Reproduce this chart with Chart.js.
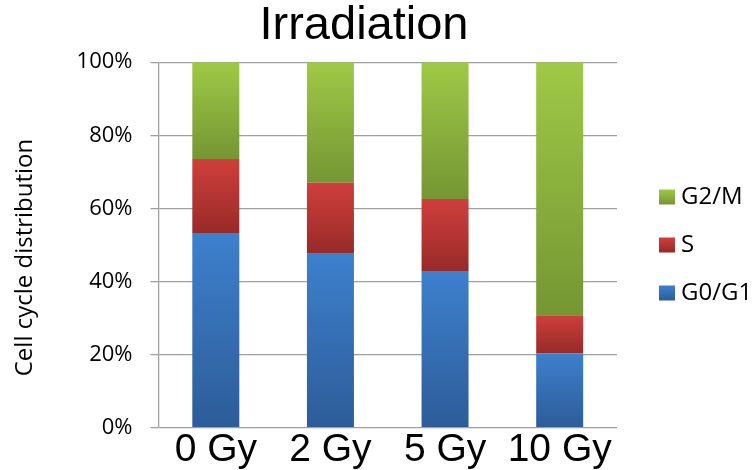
<!DOCTYPE html>
<html>
<head>
<meta charset="utf-8">
<script src="https://cdn.jsdelivr.net/npm/chart.js@4.4.0/dist/chart.umd.min.js"></script>
<style>
  html, body { margin: 0; padding: 0; background: #ffffff; }
  #c { display: block; }
</style>
</head>
<body>
<canvas id="c" width="754" height="470"></canvas>
<script>
// Radiation dose groups
const doses = ['0 Gy', '2 Gy', '5 Gy', '10 Gy'];

// Share of cells in each phase (%)
const g0g1 = [53.1, 47.6, 42.7, 20.4];
const sPhase = [20.4, 19.4, 19.9, 10.4];
const g2m = [26.5, 33.0, 37.4, 69.2];

// Axis ticks
const percentTicks = [0, 20, 40, 60, 80, 100];

const phaseLabels = ['G0/G1', 'S', 'G2/M'];
const phaseSeries = [g0g1, sPhase, g2m];

// light (top) / dark (bottom) shade for each phase
const phaseShades = [
  ['#3d80cd', '#2d5c98'],
  ['#cf3f3c', '#972a28'],
  ['#9fc947', '#759633']
];

const bodyFont = '"Open Sans", Lato, sans-serif';
const arialLike = '"Liberation Sans", Arial, sans-serif';

// Vertical gradient over each stacked segment, computed from the y scale
function segmentFill(phase) {
  return (c) => {
    const [light, dark] = phaseShades[phase];
    if (c.type !== 'data') return light;
    const y = c.chart.scales && c.chart.scales.y;
    if (!y) return light;
    const j = c.dataIndex;
    let base = 0;
    for (let k = 0; k < phase; k++) base += phaseSeries[k][j];
    const top = base + phaseSeries[phase][j];
    const yb = y.getPixelForValue(base);
    const yt = y.getPixelForValue(top);
    if (!isFinite(yb) || !isFinite(yt) || yb === yt) return light;
    const g = c.chart.ctx.createLinearGradient(0, yt, 0, yb);
    g.addColorStop(0, light);
    g.addColorStop(1, dark);
    return g;
  };
}

// Legend on the right (top entry = last stacked phase) and the rotated y title
const sideText = {
  id: 'sideText',
  afterDraw(chart) {
    const ctx = chart.ctx;
    ctx.save();
    // y axis title
    ctx.translate(25, 257.5);
    ctx.rotate(-Math.PI / 2);
    ctx.font = '24px ' + bodyFont;
    ctx.fillStyle = '#000';
    ctx.textAlign = 'center';
    ctx.textBaseline = 'middle';
    ctx.fillText('Cell cycle distribution', 0, 0);
    ctx.restore();

    ctx.save();
    ctx.font = '24px ' + bodyFont;
    ctx.textAlign = 'left';
    ctx.textBaseline = 'middle';
    const order = chart.data.datasets.map((d, i) => i).reverse();
    order.forEach((i, n) => {
      const cy = 197 + n * 48;
      const [light, dark] = phaseShades[i];
      const g = ctx.createLinearGradient(0, cy - 7.5, 0, cy + 7.5);
      g.addColorStop(0, light);
      g.addColorStop(1, dark);
      ctx.fillStyle = g;
      ctx.fillRect(659, cy - 7.5, 16, 15);
      ctx.fillStyle = '#000';
      ctx.fillText(chart.data.datasets[i].label, 681, cy);
    });
    ctx.restore();
  }
};

new Chart(document.getElementById('c'), {
  type: 'bar',
  data: {
    labels: doses,
    datasets: phaseSeries.map((data, i) => ({
      label: phaseLabels[i],
      data: data,
      backgroundColor: segmentFill(i),
      borderWidth: 0,
      barPercentage: 0.41,
      categoryPercentage: 1.0
    }))
  },
  options: {
    responsive: false,
    animation: false,
    devicePixelRatio: 1,
    layout: { padding: { left: 0, right: 26, top: 0, bottom: 0 } },
    plugins: {
      legend: { display: false },
      tooltip: { enabled: false },
      title: {
        display: true,
        text: 'Irradiation',
        color: '#000',
        font: { family: arialLike, size: 47, weight: 'normal', lineHeight: 1.09 },
        padding: { top: 0, bottom: 11 }
      }
    },
    scales: {
      x: {
        stacked: true,
        grid: { display: false },
        border: { display: false },
        ticks: {
          color: '#000',
          font: { family: arialLike, size: 39 },
          padding: -9,
          maxRotation: 0,
          autoSkip: false
        },
        afterFit(s) { s.height = 42.3; }
      },
      y: {
        stacked: true,
        min: 0,
        max: 100,
        afterBuildTicks(s) { s.ticks = percentTicks.map(v => ({ value: v })); },
        ticks: {
          color: '#000',
          font: { family: bodyFont, size: 22 },
          padding: 18,
          callback: (v) => v + '%'
        },
        grid: { color: '#a0a0a0', lineWidth: 1.3, tickLength: 8 },
        border: { display: true, color: '#a0a0a0', width: 1.3 },
        afterFit(s) { s.width = 158.5; }
      },
      // empty right-hand band that holds the legend column
      legendBand: {
        type: 'linear',
        position: 'right',
        display: true,
        grid: { display: false },
        border: { display: false },
        ticks: { display: false },
        afterFit(s) { s.width = 111; }
      }
    }
  },
  plugins: [sideText]
});
</script>
</body>
</html>
